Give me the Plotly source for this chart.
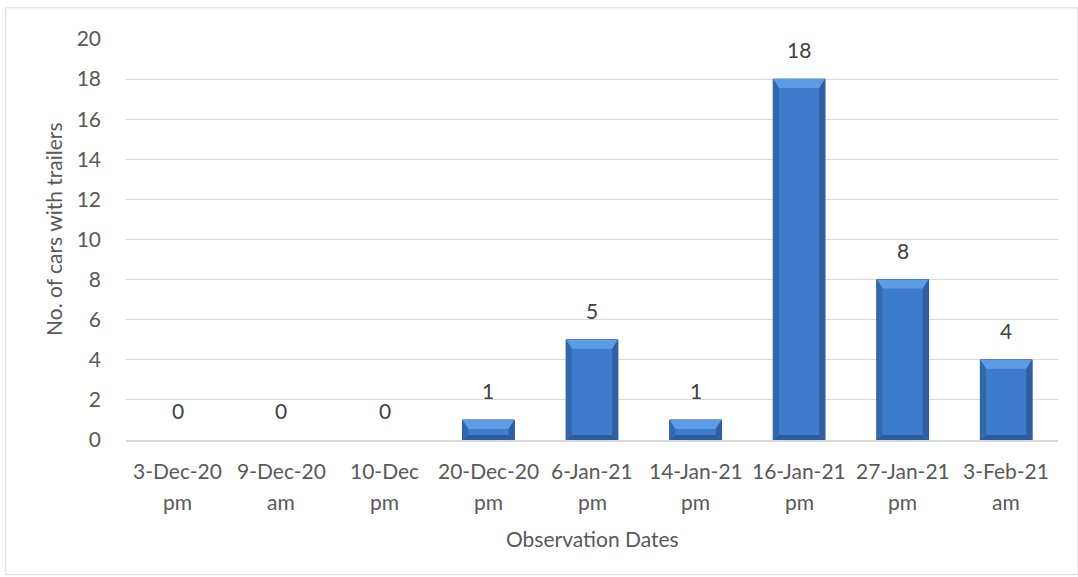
import plotly.graph_objects as go

# Observation data
dates = ["3-Dec-20", "9-Dec-20", "10-Dec", "20-Dec-20", "6-Jan-21",
         "14-Jan-21", "16-Jan-21", "27-Jan-21", "3-Feb-21"]
periods = ["pm", "am", "pm", "pm", "pm", "pm", "pm", "pm", "am"]
cars_with_trailers = [0, 0, 0, 1, 5, 1, 18, 8, 4]
y_ticks = [0, 2, 4, 6, 8, 10, 12, 14, 16, 18, 20]

xs = list(range(len(dates)))

FONT = "Lato, 'Open Sans', sans-serif"
GREY = "#595959"
FS = 21
BAR_W = 0.5
BEVEL = 0.45  # bevel depth in y units

fig = go.Figure()
fig.add_trace(go.Bar(
    x=xs, y=cars_with_trailers, width=BAR_W,
    marker=dict(color="#3D7BCB",
                line=dict(color="#2B5A98",
                          width=[1 if v > 0 else 0 for v in cars_with_trailers])),
    hoverinfo="x+y",
))

shapes = []
# bevelled edges on each bar, built from the bar values
for x, v in zip(xs, cars_with_trailers):
    if v <= 0:
        continue
    h = min(BEVEL, v / 2)
    hb = min(0.25, v / 4)
    l, r = x - BAR_W / 2, x + BAR_W / 2
    inset = 0.055
    shapes.append(dict(type="path", xref="x", yref="y",
                       path=f"M{l},{v} L{r},{v} L{r - inset},{v - h} L{l + inset},{v - h} Z",
                       fillcolor="#5C9CE6", line=dict(width=0), layer="above"))
    shapes.append(dict(type="path", xref="x", yref="y",
                       path=f"M{l},0 L{r},0 L{r - inset},{hb} L{l + inset},{hb} Z",
                       fillcolor="#2C5C9C", line=dict(width=0), layer="above"))
    shapes.append(dict(type="path", xref="x", yref="y",
                       path=f"M{r},{v} L{r},0 L{r - inset},{hb} L{r - inset},{v - h} Z",
                       fillcolor="#2F5FA0", line=dict(width=0), layer="above"))
    shapes.append(dict(type="path", xref="x", yref="y",
                       path=f"M{l},{v} L{l},0 L{l + inset},{hb} L{l + inset},{v - h} Z",
                       fillcolor="#3468AD", line=dict(width=0), layer="above"))

# outer chart border
shapes.append(dict(type="rect", xref="paper", yref="paper",
                   x0=-0.129, x1=1.0215, y0=-0.335, y1=1.075,
                   line=dict(color="#D9D9D9", width=1), fillcolor="rgba(0,0,0,0)"))

annotations = [dict(x=x, y=v, text=str(v), showarrow=False, yanchor="bottom",
                    yshift=15, font=dict(family=FONT, size=FS, color="#404040"))
               for x, v in zip(xs, cars_with_trailers)]

# two-line category labels under the axis
for x, d, p in zip(xs, dates, periods):
    annotations.append(dict(x=x, y=0, xref="x", yref="paper", text=d, showarrow=False,
                            yanchor="middle", yshift=-30,
                            font=dict(family=FONT, size=FS, color=GREY)))
    annotations.append(dict(x=x, y=0, xref="x", yref="paper", text=p, showarrow=False,
                            yanchor="middle", yshift=-61,
                            font=dict(family=FONT, size=FS, color=GREY)))

annotations.append(dict(x=0.5, y=0, xref="paper", yref="paper", text="Observation Dates",
                        showarrow=False, yanchor="middle", yshift=-98,
                        font=dict(family=FONT, size=FS, color=GREY)))

annotations.append(dict(x=-0.0773, y=0.525, xref="paper", yref="paper",
                        text="No. of cars with trailers", textangle=-90,
                        showarrow=False, xanchor="center", yanchor="middle",
                        font=dict(family=FONT, size=FS, color=GREY)))

fig.update_layout(
    width=1078, height=577,
    margin=dict(l=126, r=20, t=38, b=137),
    paper_bgcolor="white", plot_bgcolor="white",
    font=dict(family=FONT, size=FS, color=GREY),
    showlegend=False, bargap=0.5,
    shapes=shapes, annotations=annotations,
    xaxis=dict(
        tickmode="array", tickvals=xs, showticklabels=False,
        range=[-0.5, len(xs) - 0.5], showgrid=False, zeroline=False,
        showline=True, linecolor="#D9D9D9", linewidth=2, ticks="",
    ),
    yaxis=dict(
        tickmode="array", tickvals=y_ticks, range=[0, 20.05],
        showgrid=True, gridcolor="#D9D9D9", gridwidth=1, zeroline=False,
        showline=False, ticks="", ticklabelstandoff=24,
        tickfont=dict(family=FONT, size=FS, color=GREY),
    ),
)

fig.write_html("out.html")
